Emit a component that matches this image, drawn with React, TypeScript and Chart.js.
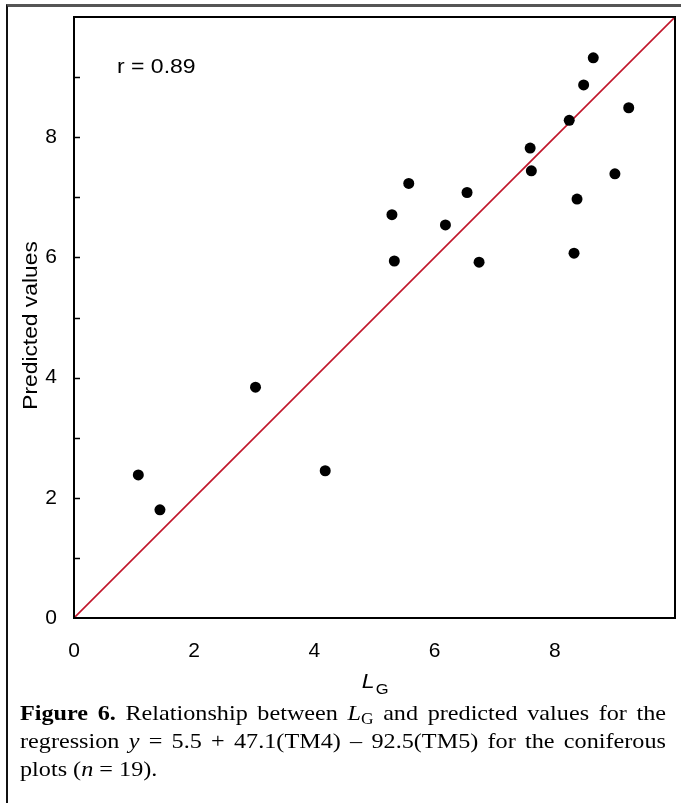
import React, { useEffect, useRef } from 'react';
import { Chart, registerables } from 'chart.js';

Chart.register(...registerables);

// ---- data ----
const lgValues = [1.07, 1.43, 3.02, 4.18, 5.29, 5.33, 5.57, 6.18, 6.54, 6.74, 7.59, 7.61, 8.24, 8.32, 8.37, 8.48, 8.64, 9.0, 9.23];
const predictedValues = [2.38, 1.8, 3.84, 2.45, 6.71, 5.94, 7.23, 6.54, 7.08, 5.92, 7.82, 7.44, 8.28, 6.07, 6.97, 8.87, 9.32, 7.39, 8.49];
const fitLineX = [0, 10];
const fitLineY = [0, 10];
const axisMin = 0;
const axisMax = 10;
const labelStep = 2;
const yTickMarks = [1, 2, 3, 4, 5, 6, 7, 8, 9];
const annotationText = 'r = 0.89';
const yAxisTitle = 'Predicted values';
const xAxisTitleMain = 'L';
const xAxisTitleSub = 'G';

const SANS = '"Liberation Sans", Arial, Helvetica, sans-serif';
const SERIF = '"Liberation Serif", "Times New Roman", serif';

function stretchedText(ctx: any, text: string, x: number, y: number, sx: number) {
  ctx.save();
  ctx.translate(x, y);
  ctx.scale(sx, 1);
  ctx.fillText(text, 0, 0);
  ctx.restore();
}

const overlayPlugin = {
  id: 'overlay',
  afterDraw(chart: any) {
    const { ctx, chartArea, scales } = chart;
    const { left, top, right, bottom } = chartArea;
    const y = scales.y;
    ctx.save();
    // plot box
    ctx.strokeStyle = '#000';
    ctx.lineWidth = 2;
    ctx.strokeRect(left, top, right - left, bottom - top);
    // inside tick marks on y axis
    ctx.lineWidth = 1.5;
    yTickMarks.forEach((v) => {
      const py = Math.round(y.getPixelForValue(v)) + 0.5;
      ctx.beginPath();
      ctx.moveTo(left, py);
      ctx.lineTo(left + 6, py);
      ctx.stroke();
    });
    // annotation
    ctx.fillStyle = '#000';
    ctx.font = `20px ${SANS}`;
    ctx.textAlign = 'left';
    ctx.textBaseline = 'alphabetic';
    stretchedText(ctx, annotationText, left + 43, top + 56, 1.15);
    // x axis title: italic L with subscript G
    const cx = (left + right) / 2;
    ctx.font = `italic 21px ${SANS}`;
    const wL = ctx.measureText(xAxisTitleMain).width;
    ctx.font = `15px ${SANS}`;
    const wG = ctx.measureText(xAxisTitleSub).width;
    const startX = cx - 1 - (wL + wG) / 2;
    ctx.font = `italic 21px ${SANS}`;
    stretchedText(ctx, xAxisTitleMain, startX, 688, 1.1);
    ctx.font = `15px ${SANS}`;
    stretchedText(ctx, xAxisTitleSub, startX + wL * 1.1 + 1, 694, 1.1);
    // y axis title
    ctx.translate(31, (top + bottom) / 2 + 8);
    ctx.rotate(-Math.PI / 2);
    ctx.font = `20px ${SANS}`;
    ctx.textAlign = 'center';
    ctx.textBaseline = 'middle';
    stretchedText(ctx, yAxisTitle, 0, 0, 1.14);
    ctx.restore();
  },
};

const zeroPadding = (s: any) => {
  s.paddingTop = 0;
  s.paddingBottom = 0;
  s.paddingLeft = 0;
  s.paddingRight = 0;
};

function ScatterChart() {
  const ref = useRef<HTMLCanvasElement | null>(null);
  useEffect(() => {
    if (!ref.current) return;
    const chart = new Chart(ref.current, {
      type: 'scatter',
      data: {
        datasets: [
          {
            type: 'line',
            data: fitLineX.map((x, i) => ({ x, y: fitLineY[i] })),
            borderColor: '#c1162b',
            borderWidth: 1.6,
            pointRadius: 0,
            showLine: true,
            fill: false,
            order: 2,
          } as any,
          {
            data: lgValues.map((x, i) => ({ x, y: predictedValues[i] })),
            backgroundColor: '#000',
            borderColor: '#000',
            borderWidth: 0,
            pointRadius: 5.5,
            order: 1,
          },
        ],
      },
      options: {
        animation: false,
        responsive: false,
        events: [],
        layout: { padding: { top: 17, right: 6, left: 0, bottom: 0 } },
        plugins: { legend: { display: false }, tooltip: { enabled: false } },
        scales: {
          x: {
            type: 'linear',
            min: axisMin,
            max: axisMax,
            grid: { display: false, drawTicks: false },
            border: { display: false },
            ticks: {
              stepSize: labelStep,
              autoSkip: false,
              maxRotation: 0,
              padding: 21,
              color: '#000',
              font: { family: SANS, size: 21 },
              callback: (v: any) => (v === axisMax ? '' : String(v)),
            },
            afterFit: (s: any) => {
              s.height = 82;
              zeroPadding(s);
            },
          },
          y: {
            type: 'linear',
            min: axisMin,
            max: axisMax,
            grid: { display: false, drawTicks: false },
            border: { display: false },
            ticks: {
              stepSize: labelStep,
              autoSkip: false,
              padding: 17,
              color: '#000',
              font: { family: SANS, size: 21 },
              callback: (v: any) => (v === axisMax ? '' : String(v)),
            },
            afterFit: (s: any) => {
              s.width = 74;
              zeroPadding(s);
            },
          },
        },
      },
      plugins: [overlayPlugin],
    });
    return () => chart.destroy();
  }, []);
  return (
    <canvas
      ref={ref}
      width={681}
      height={700}
      style={{ position: 'absolute', left: 0, top: 0, width: 681, height: 700 }}
    />
  );
}

const sub = (t: string) => (
  <span style={{ fontSize: '0.72em', verticalAlign: '-0.28em', lineHeight: 0 }}>{t}</span>
);

const STRETCH = 1.1;
const CAPTION_WIDTH = 646;

const lineStyle = (top: number, justify: boolean): React.CSSProperties => ({
  position: 'absolute',
  left: 20,
  top,
  width: CAPTION_WIDTH / STRETCH,
  height: 28,
  lineHeight: '28px',
  fontFamily: SERIF,
  fontSize: 22,
  color: '#000',
  whiteSpace: 'nowrap',
  textAlign: justify ? 'justify' : 'left',
  textAlignLast: justify ? 'justify' : 'left',
  transform: `scaleX(${STRETCH})`,
  transformOrigin: '0 0',
});

export default function App() {
  return (
    <div style={{ position: 'absolute', left: 0, top: 0, width: 681, height: 803, background: '#fff', overflow: 'hidden' }}>
      <div
        style={{
          position: 'absolute',
          left: 6,
          top: 4,
          width: 700,
          height: 820,
          borderTop: '3px solid #555',
          borderLeft: '2px solid #111',
          boxSizing: 'border-box',
        }}
      />
      <ScatterChart />
      <div style={lineStyle(699, true)}>
        <b>Figure 6.</b> Relationship between <i>L</i>{sub('G')} and predicted values for the
      </div>
      <div style={lineStyle(727, true)}>
        regression <i>y</i> = 5.5 + 47.1(TM4) – 92.5(TM5) for the coniferous
      </div>
      <div style={lineStyle(755, false)}>
        plots (<i>n</i> = 19).
      </div>
    </div>
  );
}
